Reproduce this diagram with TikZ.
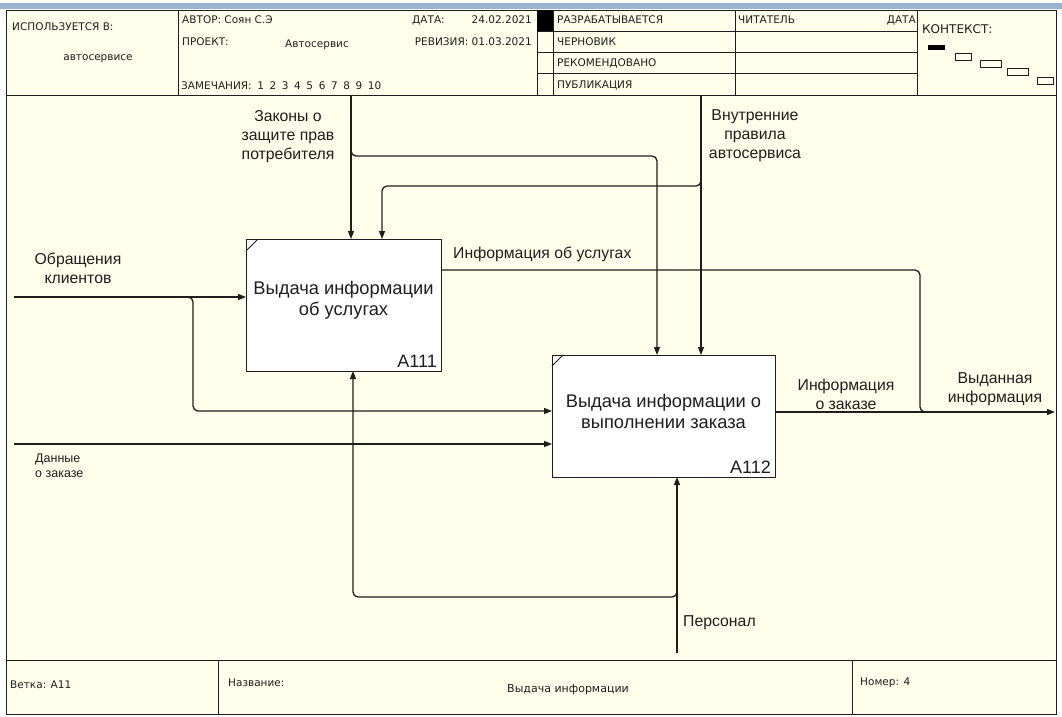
\documentclass[tikz,border=0pt]{standalone}
\usepackage{fontspec}
\setmainfont{Liberation Sans}
\newfontfamily\hdrfont{DejaVu Sans}
\usetikzlibrary{arrows.meta}
\definecolor{paper}{RGB}{255,255,236}
\definecolor{capbar}{RGB}{153,180,209}
\definecolor{ink}{RGB}{30,30,30}
\newcommand{\nsp}{\hspace{5.6pt}}
\begin{document}
\begin{tikzpicture}[x=1pt,y=-1pt]
\tikzset{
  frameline/.style={draw=ink, line width=1pt},
  fnbox/.style={draw=ink, fill=white, line width=1pt, inner sep=0pt, outer sep=0pt},
  flow/.style={draw=ink, line width=1.3pt, rounded corners=5pt},
  arr/.style={flow, -{Triangle[length=8pt,width=6pt]}},
  lbl/.style={font=\fontsize{15.8}{19}\selectfont, align=center, inner sep=0pt, text=ink},
  smalllbl/.style={font=\fontsize{12.5}{15}\selectfont, align=left, inner sep=0pt, text=ink, anchor=west},
  ttl/.style={font=\fontsize{18.3}{21}\selectfont, align=center, inner sep=0pt, text=ink},
  boxno/.style={font=\fontsize{18}{20}\selectfont, inner sep=0pt, text=ink, anchor=south east},
  hd/.style={font=\hdrfont\fontsize{10.5}{12}\selectfont, inner sep=0pt, anchor=west, text=ink},
}
\useasboundingbox (0,0) rectangle (1062,716);
\fill[white] (0,0) rectangle (1062,716);
\fill[capbar] (0,3) rectangle (1062,9);
% form frame
\fill[paper] (6,10) rectangle (1056,714);
\draw[frameline] (6,10) rectangle (1056,714);
% header grid
\draw[frameline] (6,95) -- (1056,95);
\draw[frameline] (178,10) -- (178,95);
\draw[frameline] (537,10) -- (537,95);
\draw[frameline] (553,10) -- (553,95);
\draw[frameline] (735,10) -- (735,95);
\draw[frameline] (917,10) -- (917,95);
\foreach \yy in {31,52,73} \draw[frameline] (537,\yy) -- (917,\yy);
\fill[black] (537,10) rectangle (553,31);
% header texts
\node[hd] (usedin) at (12,27) {ИСПОЛЬЗУЕТСЯ В:};
\node[hd, anchor=center] (usedwhere) at (98,59) {автосервисе};
\node[hd] (author) at (182,20) {АВТОР: Соян С.Э};
\node[hd] (project) at (182,42) {ПРОЕКТ:};
\node[hd, anchor=center] (projname) at (317,45) {Автосервис};
\node[hd] (notes) at (181,86) {ЗАМЕЧАНИЯ:\nsp 1\nsp 2\nsp 3\nsp 4\nsp 5\nsp 6\nsp 7\nsp 8\nsp 9\nsp 10};
\node[hd] (datekey) at (412,20) {ДАТА:};
\node[hd, anchor=east] (dateval) at (532,20) {24.02.2021};
\node[hd, anchor=east] (revision) at (532,42) {РЕВИЗИЯ: 01.03.2021};
\node[hd] (st1) at (557,20) {РАЗРАБАТЫВАЕТСЯ};
\node[hd] (st2) at (557,42) {ЧЕРНОВИК};
\node[hd] (st3) at (557,63) {РЕКОМЕНДОВАНО};
\node[hd] (st4) at (557,85) {ПУБЛИКАЦИЯ};
\node[hd] (reader) at (738,20) {ЧИТАТЕЛЬ};
\node[hd, anchor=east] (readdate) at (916,20) {ДАТА};
\node[hd, font=\hdrfont\fontsize{12}{14}\selectfont] (context) at (922,29) {КОНТЕКСТ:};
% context diagram
\fill[black] (928,45) rectangle (945,50);
\draw[ink, line width=0.9pt] (955,53) rectangle (971,60);
\draw[ink, line width=0.9pt] (980,60) rectangle (1001,67);
\draw[ink, line width=0.9pt] (1007,68) rectangle (1028,75);
\draw[ink, line width=0.9pt] (1037,77) rectangle (1053,84);
% footer
\draw[frameline] (6,660) -- (1056,660);
\draw[frameline] (218,660) -- (218,714);
\draw[frameline] (852,660) -- (852,714);
\node[hd] (branch) at (10,685) {Ветка: A11};
\node[hd] (titlekey) at (228,683) {Название:};
\node[hd, anchor=center, font=\hdrfont\fontsize{11}{13}\selectfont] (titleval) at (568,690) {Выдача информации};
\node[hd] (pageno) at (860,683) {Номер: 4};
% function boxes
\node[fnbox, minimum width=195pt, minimum height=132pt] (a111) at (343.5,305) {};
\node[fnbox, minimum width=223pt, minimum height=122pt] (a112) at (663.5,416) {};
\draw[ink, line width=0.9pt] ([yshift=-12pt]a111.north west) -- ([xshift=12pt]a111.north west);
\draw[ink, line width=0.9pt] ([yshift=-11pt]a112.north west) -- ([xshift=11pt]a112.north west);
\node[ttl] (a111t) at ([yshift=5pt]a111.center) {Выдача информации\\об услугах};
\node[ttl] (a112t) at ([yshift=5pt]a112.center) {Выдача информации о\\выполнении заказа};
\node[boxno] (a111n) at ([xshift=-4pt,yshift=3pt]a111.south east) {A111};
\node[boxno] (a112n) at ([xshift=-4pt,yshift=3pt]a112.south east) {A112};
% connector end points
\coordinate (lawsIn) at (351,96);
\coordinate (lawsBr) at (351,150);
\coordinate (rulesIn) at (701,96);
\coordinate (rulesBr) at (701,180);
\coordinate (reqIn) at (14,297);
\coordinate (reqBr) at (187,297);
\coordinate (dataIn) at (14,444);
\coordinate (staffIn) at (677,653);
\coordinate (staffBr) at (677,591);
\coordinate (outEnd) at (1055,412);
% controls
\draw[arr] (lawsIn) -- (lawsIn |- a111.north);
\draw[arr] (lawsBr) -- (351,156) -- (657,156) -- (657,355 |- a112.north);
\draw[arr] (rulesIn) -- (rulesIn |- a112.north);
\draw[arr] (rulesBr) -- (701,186) -- (382,186) -- (382,239 |- a111.north);
% inputs
\draw[arr] (reqIn) -- (reqIn -| a111.west);
\draw[arr] (reqBr) -- (193,297) -- (193,411) -- (552,411 -| a112.west);
\draw[arr] (dataIn) -- (dataIn -| a112.west);
% outputs
\draw[flow] (441,270 -| a111.east) -- (920,270) -- (920,412) -- (928,412);
\draw[arr] (a112.east |- outEnd) -- (outEnd);
% mechanisms
\draw[arr] (staffIn) -- (staffIn |- a112.south);
\draw[arr] (staffBr) -- (677,597) -- (353,597) -- (353,371 |- a111.south);
% arrow labels
\node[lbl] (lawsL) at (288,137) {Законы о\\защите прав\\потребителя};
\node[lbl] (rulesL) at (755,136) {Внутренние\\правила\\автосервиса};
\node[lbl] (reqL) at (78,268) {Обращения\\клиентов};
\node[smalllbl] (dataL) at (35,466) {Данные\\о заказе};
\node[lbl, anchor=west] (infoL) at (453,254) {Информация об услугах};
\node[lbl] (orderL) at (846,394) {Информация\\о заказе};
\node[lbl] (outL) at (995,389) {Выданная\\информация};
\node[lbl, anchor=west] (staffL) at (683,623) {Персонал};
\end{tikzpicture}
\end{document}
